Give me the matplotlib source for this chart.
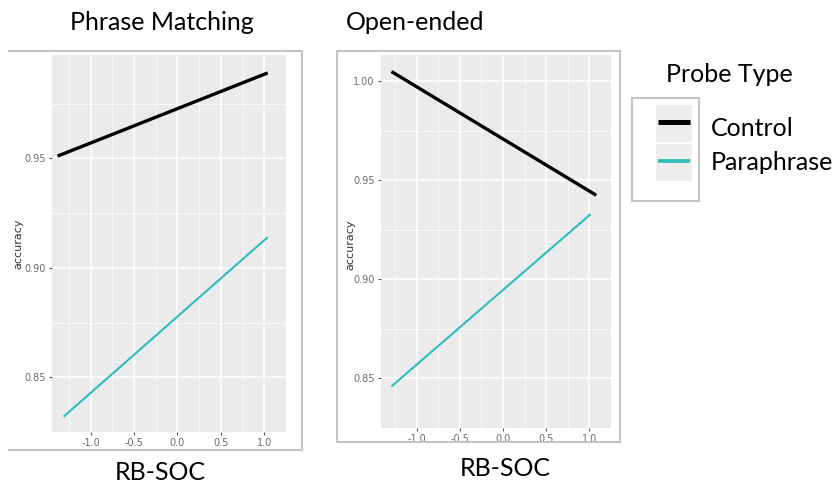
import matplotlib
matplotlib.use('Agg')
from matplotlib import pyplot as plt
from matplotlib.lines import Line2D
from matplotlib.patches import Rectangle
import numpy as np

# fitted lines (start/end of each lm fit) for the two tasks
pm_control_x = [-1.38, 1.04]
pm_control_y = [0.951, 0.989]
pm_para_x = [-1.31, 1.04]
pm_para_y = [0.832, 0.914]

oe_control_x = [-1.29, 1.08]
oe_control_y = [1.005, 0.9425]
oe_para_x = [-1.29, 1.015]
oe_para_y = [0.846, 0.933]

x_ticks = [-1.0, -0.5, 0.0, 0.5, 1.0]
pm_y_ticks = [0.85, 0.90, 0.95]
oe_y_ticks = [0.85, 0.90, 0.95, 1.00]

probe_types = ['Control', 'Paraphrase']
probe_colors = ['black', '#2EBDBD']
probe_widths = [2.4, 1.5]

W, H = 838, 493
fig = plt.figure(figsize=(W / 100, H / 100), dpi=100)

def px_axes(x0, y0, x1, y1):
    # axes placed by pixel box (top-left origin)
    return fig.add_axes([x0 / W, 1 - y1 / H, (x1 - x0) / W, (y1 - y0) / H])

def gg_style(ax, yticks, xlim, ylim):
    ax.set_facecolor('#EBEBEB')
    ax.set_xlim(xlim)
    ax.set_ylim(ylim)
    ax.set_xticks(x_ticks)
    ax.set_xticklabels(['%.1f' % v for v in x_ticks])
    ax.set_yticks(yticks)
    ax.set_yticklabels(['%.2f' % v for v in yticks])
    ax.set_xticks(np.arange(-1.25, 1.3, 0.5), minor=True)
    ax.set_yticks(np.arange(yticks[0] - 0.025, ylim[1], 0.05), minor=True)
    ax.grid(which='major', color='white', lw=1.1)
    ax.grid(which='minor', color='white', lw=0.5)
    ax.set_axisbelow(True)
    for s in ax.spines.values():
        s.set_visible(False)
    ax.tick_params(which='major', length=2.5, width=0.8, color='#555555',
                   labelsize=7, labelcolor='#6A6A6A', pad=2)
    ax.tick_params(which='minor', length=0)

def frame(x0, y0, x1, y1, left=True):
    kw = dict(color='#C4C4C4', lw=1.5, transform=None)
    pts = [((x0, x1), (y0, y0)), ((x0, x1), (y1, y1)), ((x1, x1), (y0, y1))]
    if left:
        pts.append(((x0, x0), (y0, y1)))
    for xs, ys in pts:
        fig.add_artist(Line2D(xs, [H - v for v in ys], **kw))

# Phrase Matching panel
frame(9, 51, 302, 450, left=False)
ax1 = px_axes(52, 55, 286, 432)
gg_style(ax1, pm_y_ticks, (-1.444, 1.156), (0.82502, 0.99717))
ax1.plot(pm_control_x, pm_control_y, color=probe_colors[0], lw=probe_widths[0], solid_capstyle='butt')
ax1.plot(pm_para_x, pm_para_y, color=probe_colors[1], lw=probe_widths[1], solid_capstyle='butt')
fig.text(18 / W, 1 - 244 / H, 'accuracy', rotation=90, ha='center', va='center',
         fontsize=8, color='#333333')

# Open-ended panel
frame(337, 51, 620, 442)
ax2 = px_axes(381, 55, 611, 428)
gg_style(ax2, oe_y_ticks, (-1.411, 1.144), (0.8374, 1.01335))
ax2.plot(oe_control_x, oe_control_y, color=probe_colors[0], lw=probe_widths[0], solid_capstyle='butt')
ax2.plot(oe_para_x, oe_para_y, color=probe_colors[1], lw=probe_widths[1], solid_capstyle='butt')
fig.text(350 / W, 1 - 245 / H, 'accuracy', rotation=90, ha='center', va='center',
         fontsize=8, color='#333333')

# titles and axis labels
big = dict(fontsize=18, family=['Lato', 'DejaVu Sans'], color='black')
fig.text(162 / W, 1 - 22 / H, 'Phrase Matching', ha='center', va='center', **big)
fig.text(415 / W, 1 - 22 / H, 'Open-ended', ha='center', va='center', **big)
fig.text(160 / W, 1 - 472 / H, 'RB-SOC', ha='center', va='center', **big)
fig.text(505 / W, 1 - 468 / H, 'RB-SOC', ha='center', va='center', **big)

# legend
fig.text(729 / W, 1 - 75 / H, 'Probe Type', ha='center', va='center', **big)
frame(632, 98, 699, 201)
lg = px_axes(656, 104, 692, 182)
lg.set_xlim(0, 1)
lg.set_ylim(0, len(probe_types))
lg.axis('off')
for i, (name, c, w) in enumerate(zip(probe_types, probe_colors, probe_widths)):
    yc = len(probe_types) - i - 0.5
    lg.add_patch(Rectangle((0, yc - 0.48), 1, 0.96, color='#EDEDED', lw=0))
    lg.plot([0.05, 0.95], [yc + 0.05, yc + 0.05], color=c, lw=w + 1.2, solid_capstyle='butt')
    fig.text(711 / W, 1 - (128 + 35 * i) / H, name, ha='left', va='center', **big)

fig.savefig('out.png', dpi=100)
